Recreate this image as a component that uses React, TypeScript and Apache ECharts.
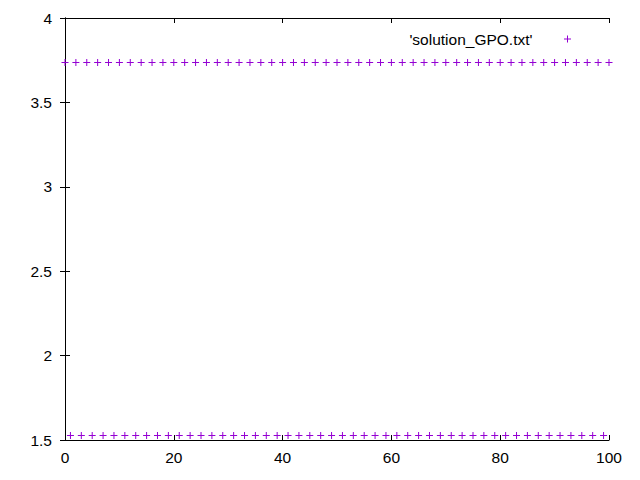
import React, { useEffect, useRef } from "react";
import * as echarts from "echarts";

const seriesName = "'solution_GPO.txt'";
const xValues = [
  0, 1, 2, 3, 4, 5, 6, 7, 8, 9, 10, 11, 12, 13, 14, 15, 16, 17, 18, 19, 20,
  21, 22, 23, 24, 25, 26, 27, 28, 29, 30, 31, 32, 33, 34, 35, 36, 37, 38, 39, 40,
  41, 42, 43, 44, 45, 46, 47, 48, 49, 50, 51, 52, 53, 54, 55, 56, 57, 58, 59, 60,
  61, 62, 63, 64, 65, 66, 67, 68, 69, 70, 71, 72, 73, 74, 75, 76, 77, 78, 79, 80,
  81, 82, 83, 84, 85, 86, 87, 88, 89, 90, 91, 92, 93, 94, 95, 96, 97, 98, 99, 100,
];
const yValues = [
  3.736, 1.527, 3.736, 1.527, 3.736, 1.527, 3.736, 1.527, 3.736, 1.527, 3.736,
  1.527, 3.736, 1.527, 3.736, 1.527, 3.736, 1.527, 3.736, 1.527, 3.736,
  1.527, 3.736, 1.527, 3.736, 1.527, 3.736, 1.527, 3.736, 1.527, 3.736,
  1.527, 3.736, 1.527, 3.736, 1.527, 3.736, 1.527, 3.736, 1.527, 3.736,
  1.527, 3.736, 1.527, 3.736, 1.527, 3.736, 1.527, 3.736, 1.527, 3.736,
  1.527, 3.736, 1.527, 3.736, 1.527, 3.736, 1.527, 3.736, 1.527, 3.736,
  1.527, 3.736, 1.527, 3.736, 1.527, 3.736, 1.527, 3.736, 1.527, 3.736,
  1.527, 3.736, 1.527, 3.736, 1.527, 3.736, 1.527, 3.736, 1.527, 3.736,
  1.527, 3.736, 1.527, 3.736, 1.527, 3.736, 1.527, 3.736, 1.527, 3.736,
  1.527, 3.736, 1.527, 3.736, 1.527, 3.736, 1.527, 3.736, 1.527, 3.736,
];
const xMin = 0, xMax = 100, xStep = 20;
const yMin = 1.5, yMax = 4, yStep = 0.5;

const PURPLE = "#9400d3";
const PLUS = "path://M3,0H4V3H7V4H4V7H3V4H0V3H3Z";
const FONT = "Liberation Sans, Arial, sans-serif";
const FS = 15.5;

export default function App() {
  const ref = useRef<HTMLDivElement>(null);
  useEffect(() => {
    if (!ref.current) return;
    const chart = echarts.init(ref.current, undefined, { renderer: "svg" });
    const axisLine = { show: true, lineStyle: { color: "#000", width: 1 } };
    const tick = { show: true, inside: true, length: 5, lineStyle: { color: "#000" } };
    chart.setOption({
      animation: false,
      backgroundColor: "#fff",
      grid: { left: 65, right: 31, top: 18, bottom: 40, containLabel: false },
      legend: {
        show: true,
        right: 64,
        top: 26,
        align: "right",
        itemWidth: 60,
        itemHeight: 7,
        data: [{ name: seriesName, icon: PLUS, itemStyle: { color: PURPLE, opacity: 1 } }],
        textStyle: { fontFamily: FONT, fontSize: FS, color: "#000" },
        selectedMode: false,
      },
      xAxis: [
        {
          type: "value", min: xMin, max: xMax, interval: xStep, position: "bottom",
          axisLine, axisTick: tick, splitLine: { show: false },
          axisLabel: { fontFamily: FONT, fontSize: FS, color: "#000", margin: 9 },
        },
        {
          type: "value", min: xMin, max: xMax, interval: xStep, position: "top",
          axisLine, axisTick: tick, splitLine: { show: false }, axisLabel: { show: false },
        },
      ],
      yAxis: [
        {
          type: "value", min: yMin, max: yMax, interval: yStep, position: "left",
          axisLine, axisTick: tick, splitLine: { show: false },
          axisLabel: { fontFamily: FONT, fontSize: FS, color: "#000", margin: 13 },
        },
        {
          type: "value", min: yMin, max: yMax, interval: yStep, position: "right",
          axisLine, axisTick: tick, splitLine: { show: false }, axisLabel: { show: false },
        },
      ],
      series: [
        {
          name: seriesName,
          type: "scatter",
          xAxisIndex: 0,
          yAxisIndex: 0,
          symbol: PLUS,
          symbolSize: 7,
          symbolKeepAspect: true,
          clip: false,
          itemStyle: { color: PURPLE, opacity: 1 },
          emphasis: { disabled: true },
          data: xValues.map((x, i) => [x, yValues[i]]),
        },
      ],
    });
    return () => chart.dispose();
  }, []);
  return <div ref={ref} style={{ width: 640, height: 480, position: "absolute", left: 0, top: 0 }} />;
}
